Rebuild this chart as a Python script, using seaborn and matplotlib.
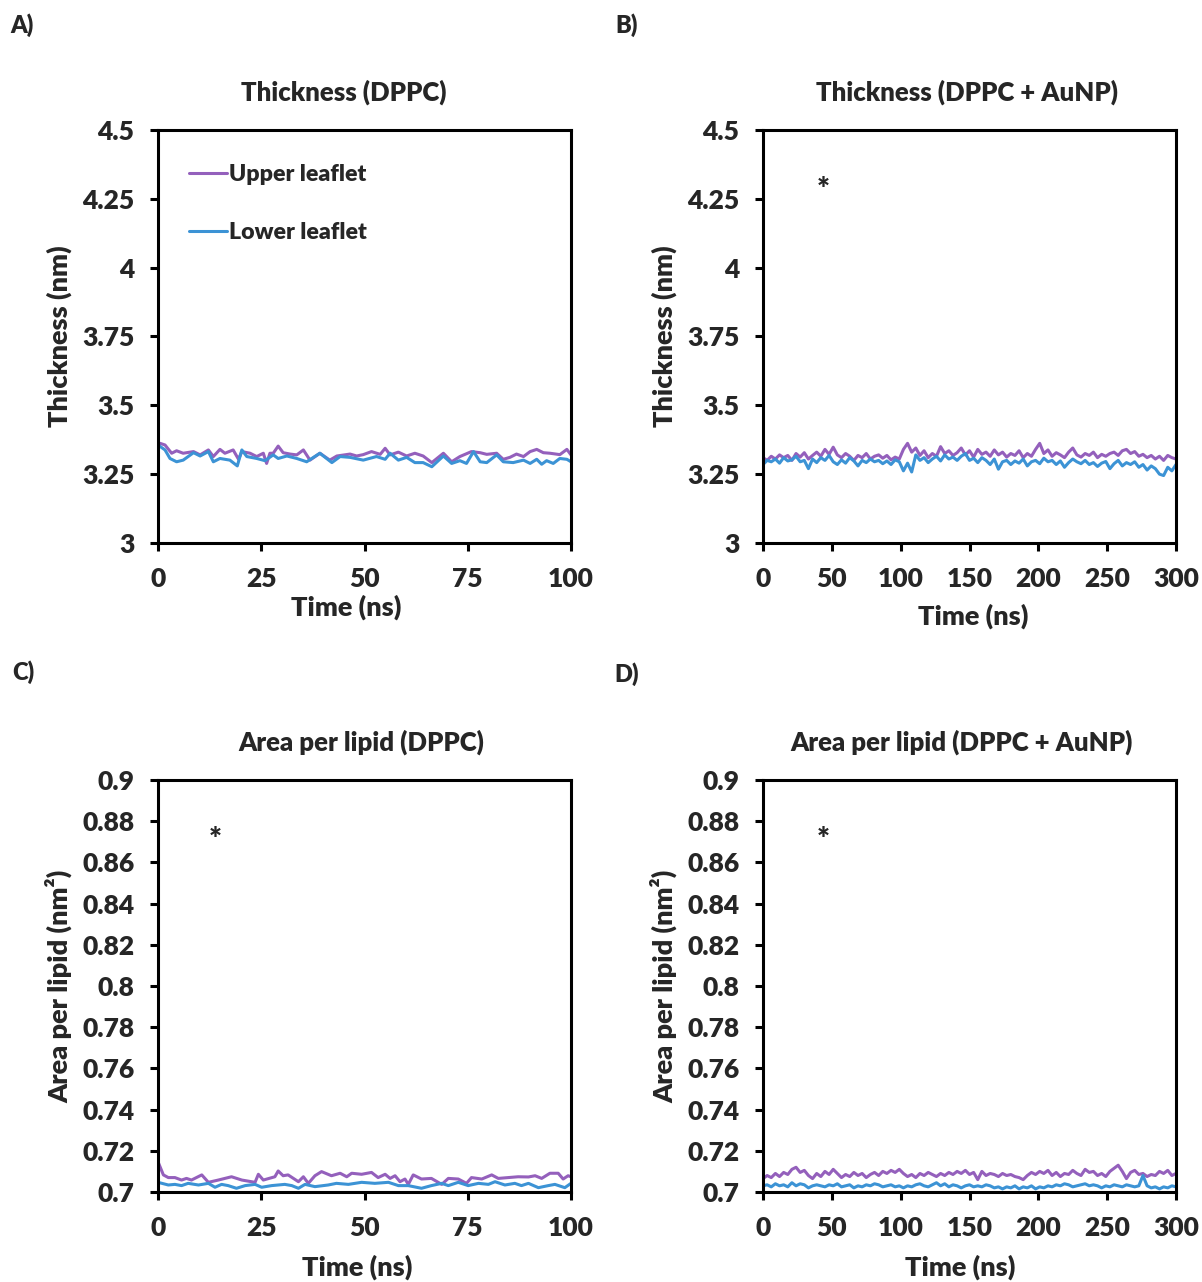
import numpy as np
import pandas as pd
import matplotlib
matplotlib.use("Agg")
import matplotlib.pyplot as plt
import seaborn as sns

# ---------------- data ----------------
# Panel A: thickness DPPC (time ns, thickness nm)
tA_up = [0.5, 1.7, 3.3, 4.5, 6.1, 8.6, 10.2, 12.2, 13.4, 15.0, 16.2, 18.2, 19.5, 20.3, 22.3, 23.9,
         25.5, 26.3, 27.1, 27.9, 29.1, 30.3, 32.0, 33.6, 35.2, 36.8, 39.2, 41.6, 43.3, 46.5, 48.1,
         49.7, 51.7, 53.8, 55.0, 56.2, 58.2, 60.2, 62.2, 64.2, 66.3, 69.1, 71.1, 73.1, 75.9, 78.0,
         79.6, 82.0, 83.6, 85.2, 86.8, 88.5, 90.1, 91.7, 93.3, 94.9, 97.3, 99.0, 100.0]
vA_up = [3.362, 3.356, 3.326, 3.335, 3.326, 3.332, 3.320, 3.338, 3.314, 3.340, 3.326, 3.338, 3.304,
         3.332, 3.326, 3.314, 3.326, 3.289, 3.326, 3.326, 3.352, 3.328, 3.323, 3.320, 3.338, 3.301,
         3.326, 3.301, 3.316, 3.323, 3.316, 3.321, 3.332, 3.322, 3.344, 3.320, 3.330, 3.316, 3.326,
         3.316, 3.292, 3.326, 3.295, 3.314, 3.332, 3.328, 3.322, 3.326, 3.304, 3.311, 3.323, 3.314,
         3.332, 3.340, 3.328, 3.326, 3.321, 3.340, 3.320]
tA_lo = [0.0, 1.7, 2.9, 4.5, 6.1, 8.6, 10.2, 12.2, 13.4, 15.0, 17.4, 19.2, 20.3, 21.5, 23.9, 25.9,
         27.9, 29.1, 31.2, 33.6, 36.0, 39.2, 42.1, 44.1, 46.5, 49.7, 52.9, 55.0, 56.2, 58.2, 60.2,
         62.2, 64.2, 66.3, 69.1, 71.1, 73.1, 74.7, 76.4, 78.0, 79.6, 82.0, 83.6, 86.0, 88.5, 90.1,
         91.7, 92.9, 94.1, 95.7, 97.3, 99.0, 100.0]
vA_lo = [3.356, 3.338, 3.307, 3.295, 3.301, 3.328, 3.316, 3.332, 3.295, 3.307, 3.301, 3.280, 3.338,
         3.314, 3.307, 3.299, 3.320, 3.307, 3.316, 3.307, 3.295, 3.326, 3.292, 3.314, 3.311, 3.301,
         3.314, 3.304, 3.326, 3.301, 3.311, 3.292, 3.292, 3.277, 3.316, 3.289, 3.299, 3.289, 3.332,
         3.295, 3.292, 3.320, 3.295, 3.292, 3.301, 3.289, 3.304, 3.286, 3.299, 3.289, 3.307, 3.304,
         3.295]

# Panel B: thickness DPPC + AuNP, sampled every 3 ns from 0 to 300 ns
vB_up = [3.310, 3.300, 3.315, 3.305, 3.320, 3.310, 3.318, 3.300, 3.325, 3.312, 3.328, 3.305, 3.318,
         3.330, 3.315, 3.340, 3.322, 3.348, 3.320, 3.310, 3.325, 3.315, 3.300, 3.318, 3.310, 3.325,
         3.305, 3.315, 3.320, 3.308, 3.318, 3.302, 3.312, 3.305, 3.340, 3.362, 3.330, 3.345, 3.318,
         3.335, 3.310, 3.325, 3.315, 3.350, 3.325, 3.335, 3.318, 3.328, 3.345, 3.320, 3.335, 3.312,
         3.340, 3.322, 3.330, 3.315, 3.338, 3.320, 3.330, 3.312, 3.325, 3.318, 3.335, 3.310, 3.325,
         3.315, 3.340, 3.362, 3.325, 3.338, 3.315, 3.328, 3.320, 3.310, 3.330, 3.345, 3.320, 3.312,
         3.325, 3.318, 3.330, 3.310, 3.322, 3.315, 3.325, 3.330, 3.318, 3.335, 3.340, 3.325, 3.332,
         3.315, 3.322, 3.310, 3.318, 3.305, 3.315, 3.300, 3.318, 3.310, 3.305]
vB_lo = [3.285, 3.300, 3.295, 3.305, 3.290, 3.310, 3.298, 3.302, 3.315, 3.295, 3.300, 3.270, 3.305,
         3.292, 3.310, 3.300, 3.318, 3.295, 3.285, 3.302, 3.290, 3.310, 3.298, 3.280, 3.300, 3.292,
         3.305, 3.295, 3.300, 3.288, 3.298, 3.285, 3.302, 3.295, 3.262, 3.290, 3.258, 3.320, 3.300,
         3.310, 3.292, 3.305, 3.315, 3.298, 3.320, 3.305, 3.312, 3.300, 3.315, 3.325, 3.300, 3.308,
         3.292, 3.310, 3.300, 3.285, 3.305, 3.268, 3.295, 3.300, 3.285, 3.298, 3.290, 3.305, 3.280,
         3.295, 3.300, 3.288, 3.308, 3.295, 3.300, 3.285, 3.298, 3.275, 3.292, 3.305, 3.295, 3.288,
         3.300, 3.285, 3.292, 3.278, 3.290, 3.296, 3.270, 3.288, 3.300, 3.280, 3.292, 3.285, 3.295,
         3.275, 3.285, 3.265, 3.280, 3.270, 3.250, 3.245, 3.275, 3.262, 3.285]

# Panel C: area per lipid DPPC (time ns, area nm^2)
tC_up = [0.0, 1.3, 2.5, 4.1, 5.7, 6.9, 8.1, 10.6, 12.2, 14.6, 17.8, 20.3, 23.5, 24.3, 25.5, 28.3,
         29.1, 30.3, 31.5, 34.0, 35.2, 36.4, 38.0, 39.6, 42.0, 44.1, 45.7, 46.9, 49.3, 51.7, 53.3,
         55.0, 56.2, 57.4, 58.6, 59.8, 60.6, 61.8, 63.8, 66.2, 68.7, 70.3, 72.7, 74.7, 75.9, 78.4,
         80.8, 82.4, 84.8, 87.2, 89.7, 91.3, 92.9, 94.9, 96.9, 98.1, 99.3, 100.0]
vC_up = [0.7147, 0.7083, 0.7070, 0.7070, 0.7058, 0.7066, 0.7058, 0.7083, 0.7047, 0.7058, 0.7074,
         0.7058, 0.7047, 0.7086, 0.7058, 0.7074, 0.7102, 0.7079, 0.7083, 0.7050, 0.7074, 0.7042,
         0.7079, 0.7099, 0.7079, 0.7091, 0.7074, 0.7091, 0.7086, 0.7095, 0.7070, 0.7086, 0.7066,
         0.7079, 0.7050, 0.7063, 0.7037, 0.7083, 0.7063, 0.7066, 0.7037, 0.7066, 0.7063, 0.7042,
         0.7070, 0.7063, 0.7083, 0.7066, 0.7070, 0.7074, 0.7073, 0.7079, 0.7066, 0.7091, 0.7091,
         0.7063, 0.7079, 0.7074]
tC_lo = [0.0, 2.5, 4.1, 5.7, 7.3, 9.8, 12.2, 13.8, 15.4, 17.0, 19.0, 21.1, 23.5, 25.1, 27.5, 30.7,
         32.4, 34.0, 35.6, 38.0, 41.2, 43.2, 46.1, 49.3, 52.5, 55.8, 58.2, 60.6, 63.8, 66.2, 68.7,
         70.3, 72.7, 75.1, 77.6, 80.0, 81.6, 84.0, 86.4, 88.0, 89.7, 92.1, 94.5, 96.1, 98.5, 100.0]
vC_lo = [0.7047, 0.7034, 0.7037, 0.7031, 0.7042, 0.7034, 0.7042, 0.7023, 0.7037, 0.7031, 0.7018,
         0.7031, 0.7037, 0.7023, 0.7031, 0.7037, 0.7031, 0.7018, 0.7037, 0.7026, 0.7034, 0.7042,
         0.7037, 0.7047, 0.7042, 0.7047, 0.7031, 0.7031, 0.7018, 0.7031, 0.7042, 0.7031, 0.7047,
         0.7031, 0.7042, 0.7037, 0.7050, 0.7034, 0.7042, 0.7031, 0.7042, 0.7021, 0.7031, 0.7037,
         0.7021, 0.7042]

# Panel D: area per lipid DPPC + AuNP, sampled every 3 ns from 0 to 300 ns
vD_up = [0.7065, 0.7080, 0.7070, 0.7090, 0.7075, 0.7095, 0.7085, 0.7110, 0.7120, 0.7095, 0.7105,
         0.7080, 0.7065, 0.7090, 0.7075, 0.7100, 0.7085, 0.7110, 0.7090, 0.7070, 0.7085, 0.7075,
         0.7095, 0.7080, 0.7090, 0.7070, 0.7085, 0.7095, 0.7080, 0.7100, 0.7090, 0.7105, 0.7095,
         0.7110, 0.7090, 0.7075, 0.7085, 0.7070, 0.7090, 0.7080, 0.7095, 0.7085, 0.7075, 0.7090,
         0.7080, 0.7095, 0.7085, 0.7100, 0.7090, 0.7105, 0.7085, 0.7095, 0.7060, 0.7100, 0.7080,
         0.7090, 0.7085, 0.7075, 0.7090, 0.7080, 0.7085, 0.7075, 0.7070, 0.7060, 0.7080, 0.7095,
         0.7085, 0.7100, 0.7090, 0.7105, 0.7080, 0.7095, 0.7075, 0.7090, 0.7085, 0.7105, 0.7090,
         0.7080, 0.7110, 0.7095, 0.7100, 0.7080, 0.7090, 0.7075, 0.7100, 0.7115, 0.7130, 0.7100,
         0.7065, 0.7095, 0.7105, 0.7085, 0.7090, 0.7075, 0.7085, 0.7080, 0.7100, 0.7090, 0.7105,
         0.7080, 0.7090]
vD_lo = [0.7030, 0.7035, 0.7025, 0.7040, 0.7030, 0.7035, 0.7025, 0.7045, 0.7030, 0.7040, 0.7035,
         0.7020, 0.7030, 0.7035, 0.7030, 0.7025, 0.7035, 0.7030, 0.7040, 0.7025, 0.7030, 0.7035,
         0.7020, 0.7030, 0.7025, 0.7035, 0.7030, 0.7040, 0.7035, 0.7025, 0.7030, 0.7035, 0.7025,
         0.7030, 0.7020, 0.7030, 0.7025, 0.7035, 0.7040, 0.7030, 0.7025, 0.7035, 0.7045, 0.7030,
         0.7040, 0.7025, 0.7035, 0.7030, 0.7020, 0.7030, 0.7035, 0.7025, 0.7030, 0.7025, 0.7035,
         0.7030, 0.7020, 0.7025, 0.7015, 0.7025, 0.7020, 0.7030, 0.7015, 0.7025, 0.7020, 0.7030,
         0.7015, 0.7025, 0.7020, 0.7030, 0.7025, 0.7035, 0.7030, 0.7040, 0.7035, 0.7025, 0.7030,
         0.7035, 0.7040, 0.7030, 0.7035, 0.7030, 0.7020, 0.7030, 0.7025, 0.7035, 0.7030, 0.7025,
         0.7035, 0.7030, 0.7025, 0.7030, 0.7080, 0.7030, 0.7020, 0.7025, 0.7015, 0.7025, 0.7020,
         0.7030, 0.7025]

series_names = ["Upper leaflet", "Lower leaflet"]
thick_ticks = [3, 3.25, 3.5, 3.75, 4, 4.25, 4.5]
thick_labels = ["3", "3.25", "3.5", "3.75", "4", "4.25", "4.5"]
area_ticks = [0.7, 0.72, 0.74, 0.76, 0.78, 0.8, 0.82, 0.84, 0.86, 0.88, 0.9]
area_labels = ["0.7", "0.72", "0.74", "0.76", "0.78", "0.8", "0.82", "0.84", "0.86", "0.88", "0.9"]
x100_ticks = [0, 25, 50, 75, 100]
x300_ticks = [0, 50, 100, 150, 200, 250, 300]
titles = ["Thickness (DPPC)", "Thickness (DPPC + AuNP)",
          "Area per lipid (DPPC)", "Area per lipid (DPPC + AuNP)"]
panel_tags = ["A)", "B)", "C)", "D)"]

# ---------------- style ----------------
WT = 800
sns.set_style("ticks")
plt.rcParams["font.family"] = ["Lato", "DejaVu Sans"]
plt.rcParams["font.weight"] = WT
plt.rcParams["axes.labelweight"] = WT
plt.rcParams["axes.titleweight"] = WT

palette = {"Upper leaflet": "#9460BC", "Lower leaflet": "#3C93D5"}

W, H = 1202, 1282
fig = plt.figure(figsize=(W / 100, H / 100), dpi=100)


def px_axes(l, t, r, b):
    return fig.add_axes([l / W, 1 - b / H, (r - l) / W, (b - t) / H])


axA = px_axes(158, 130, 571, 543)
axB = px_axes(763, 130, 1176, 543)
axC = px_axes(158, 780, 571, 1192)
axD = px_axes(763, 780, 1176, 1192)


def make_df(t_up, v_up, t_lo, v_lo):
    return pd.concat([
        pd.DataFrame({"time": t_up, "value": v_up, "leaflet": series_names[0]}),
        pd.DataFrame({"time": t_lo, "value": v_lo, "leaflet": series_names[1]}),
    ], ignore_index=True)


dfA = make_df(tA_up, vA_up, tA_lo, vA_lo)
dfB = make_df(np.linspace(0, 300, len(vB_up)), vB_up, np.linspace(0, 300, len(vB_lo)), vB_lo)
dfC = make_df(tC_up, vC_up, tC_lo, vC_lo)
dfD = make_df(np.linspace(0, 300, len(vD_up)), vD_up, np.linspace(0, 300, len(vD_lo)), vD_lo)

TICK_FS = 19
LAB_FS = 19.5
TITLE_FS = 18.5

# (axes, data, xlim, xticks, ylim, yticks, ylabels, ylabel, xlabel pad, title x, xlabel x)
cfg = [
    (axA, dfA, (0, 100), x100_ticks, (3, 4.5), thick_ticks, thick_labels, "Thickness (nm)", 3, 0.449, 0.455),
    (axB, dfB, (0, 300), x300_ticks, (3, 4.5), thick_ticks, thick_labels, "Thickness (nm)", 9, 0.493, 0.508),
    (axC, dfC, (0, 100), x100_ticks, (0.7, 0.9), area_ticks, area_labels, "Area per lipid (nm²)", 11, 0.493, 0.482),
    (axD, dfD, (0, 300), x300_ticks, (0.7, 0.9), area_ticks, area_labels, "Area per lipid (nm²)", 11, 0.481, 0.477),
]

for i, (ax, df, xl, xt, yl, yt, ylab, ylabel, xpad, tx, lx) in enumerate(cfg):
    sns.lineplot(data=df, x="time", y="value", hue="leaflet", hue_order=series_names,
                 palette=palette, linewidth=2.2, ax=ax, legend=(i == 0),
                 estimator=None, sort=False)
    ax.set_xlim(*xl)
    ax.set_ylim(*yl)
    ax.set_xticks(xt)
    ax.set_xticklabels([str(v) for v in xt])
    ax.set_yticks(yt)
    ax.set_yticklabels(ylab)
    for s in ax.spines.values():
        s.set_visible(True)
        s.set_linewidth(2.2)
        s.set_color("black")
    ax.tick_params(axis="both", direction="out", length=6, width=2.2, color="black",
                   labelsize=TICK_FS, pad=11)
    for lbl in ax.get_xticklabels() + ax.get_yticklabels():
        lbl.set_fontweight(WT)
    ax.set_xlabel("Time (ns)", fontsize=LAB_FS, fontweight=WT, labelpad=xpad, x=lx)
    ax.set_ylabel(ylabel, fontsize=LAB_FS, fontweight=WT, labelpad=7)
    ax.set_title(titles[i], fontsize=TITLE_FS, fontweight=WT, pad=21, x=tx)

# legend in panel A
handles, labels = axA.get_legend_handles_labels()
leg = axA.legend(handles, labels, loc="upper left", bbox_to_anchor=(0.053, 0.94),
                 frameon=False, fontsize=16.7, handlelength=1.65, handletextpad=0.05,
                 labelspacing=1.6, borderaxespad=0)
for txt in leg.get_texts():
    txt.set_fontweight(WT)

# asterisks
axB.text(43.6, 4.281, "*", ha="center", va="center", fontsize=22, fontweight=WT)
axC.text(13.8, 0.871, "*", ha="center", va="center", fontsize=22, fontweight=WT)
axD.text(43.6, 0.871, "*", ha="center", va="center", fontsize=22, fontweight=WT)

# panel tags
tag_pos = [(10, 25), (615, 25), (12, 672), (614, 674)]
for tag, (x, y) in zip(panel_tags, tag_pos):
    fig.text(x / W, 1 - y / H, tag, ha="left", va="center", fontsize=17, fontweight=WT)

fig.savefig("out.png", dpi=100)
